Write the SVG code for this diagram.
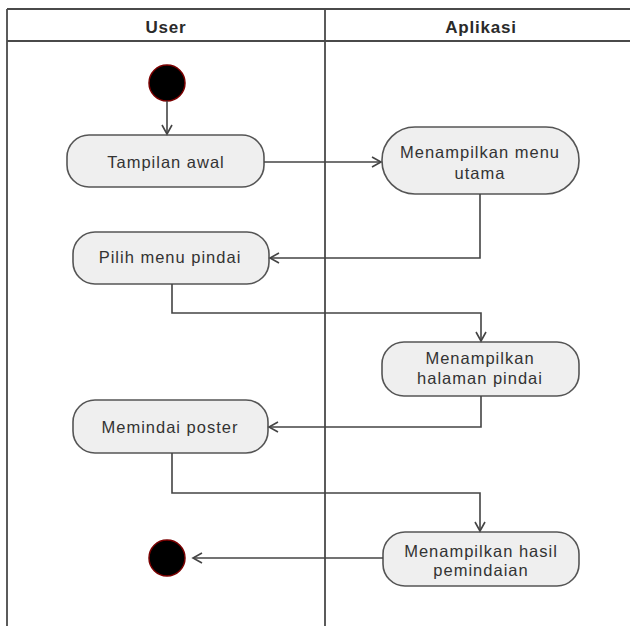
<svg xmlns="http://www.w3.org/2000/svg" width="630" height="626" viewBox="0 0 630 626">
<defs>
<marker id="arr" markerWidth="12" markerHeight="12" refX="10" refY="6" orient="auto" markerUnits="userSpaceOnUse">
<path d="M1,1 L10,6 L1,11" fill="none" stroke="#444" stroke-width="1.6"/>
</marker>
<style>
.frame{stroke:#4a4a4a;stroke-width:1.8;fill:none}
.hdr{font-family:"Liberation Sans",Arial,sans-serif;font-weight:bold;font-size:17px;letter-spacing:0.8px;fill:#2a2a2a;text-anchor:middle}
.act rect{fill:#efefef;stroke:#555;stroke-width:1.6}
.act text{font-family:"Liberation Sans",Arial,sans-serif;font-size:16.5px;letter-spacing:1px;fill:#333;text-anchor:middle}
.conn path{fill:none;stroke:#444;stroke-width:1.6;marker-end:url(#arr)}
.dot{fill:#000;stroke:#7a0000;stroke-width:1.5}
</style>
</defs>
<rect width="630" height="626" fill="#fff"/>
<g id="swimlanes">
<path class="frame" d="M7,9 H630 M7,41 H630 M7,9 V626 M325,9 V626"/>
<text class="hdr" x="166" y="33">User</text>
<text class="hdr" x="481" y="33">Aplikasi</text>
</g>
<g id="start"><circle class="dot" cx="167" cy="83" r="18"/></g>
<g id="tampilan" class="act"><rect x="67" y="135" width="197" height="52" rx="22"/><text x="166" y="168">Tampilan awal</text></g>
<g id="menu-utama" class="act"><rect x="382" y="127" width="197" height="67" rx="33"/><text x="480" y="158">Menampilkan menu</text><text x="480" y="179">utama</text></g>
<g id="pilih" class="act"><rect x="73" y="232" width="196" height="52" rx="22"/><text x="170" y="263">Pilih menu pindai</text></g>
<g id="halaman" class="act"><rect x="382" y="342" width="197" height="54" rx="22"/><text x="480" y="364">Menampilkan</text><text x="480" y="384">halaman pindai</text></g>
<g id="memindai" class="act"><rect x="73" y="400" width="195" height="53" rx="22"/><text x="170" y="433">Memindai poster</text></g>
<g id="hasil" class="act"><rect x="383" y="532" width="196" height="54" rx="22"/><text x="481" y="557">Menampilkan hasil</text><text x="481" y="576">pemindaian</text></g>
<g id="end"><circle class="dot" cx="167" cy="558" r="18"/></g>
<g id="connectors" class="conn">
<path d="M167,101 V134"/>
<path d="M264,162 H381"/>
<path d="M480,194 V258 H270"/>
<path d="M172,284 V313 H481 V341"/>
<path d="M481,396 V427 H269"/>
<path d="M172,453 V493 H480 V531"/>
<path d="M383,558 H193"/>
</g>
</svg>
